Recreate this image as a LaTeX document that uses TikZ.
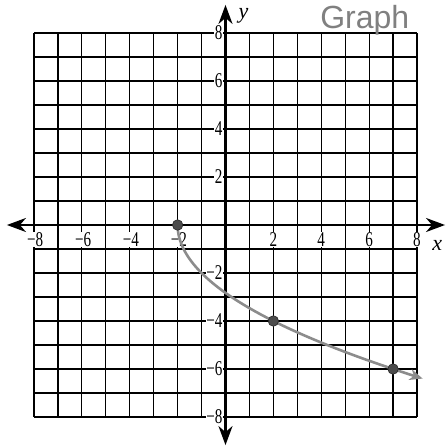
\documentclass[tikz,border=0pt]{standalone}
\usepackage{fontspec}
\setmainfont{Liberation Serif}
\setsansfont{Liberation Sans}
\usetikzlibrary{arrows.meta}
\begin{document}
\begin{tikzpicture}[x=23.94pt,y=24pt,
  gridline/.style={line width=1.2pt,black},
  axisline/.style={line width=2.2pt,black,-{Stealth[length=19pt,width=14pt,inset=6pt]}},
  ticklab/.style={fill=white,inner sep=0.5pt,font=\fontsize{21}{21}\selectfont},
  dot/.style={circle,fill=black!70,draw=black!85,line width=0.6pt,minimum size=10.5pt,inner sep=0pt},
  curveline/.style={line width=2.6pt,black!45,-{Stealth[length=13pt,width=11pt,inset=4pt]}}]
\useasboundingbox (-225.5pt,-222pt) rectangle (219.5pt,225pt);
\fill[white] (-225.5pt,-222pt) rectangle (219.5pt,225pt);
% grid
\foreach \k in {-8,...,8} {
  \draw[gridline] (\k,-8) -- (\k,8);
  \draw[gridline] (-8,\k) -- (8,\k);
}
% tick labels on x axis
\foreach \v/\t in {-8/−8,-6/−6,-4/−4,-2/−2}
  \node[ticklab] (xl\v) at (\v+0.05,-0.62) {\scalebox{0.72}[1]{\t}};
\foreach \v in {2,4,6,8}
  \node[ticklab] (xl\v) at (\v,-0.62) {\scalebox{0.72}[1]{\v}};
% tick labels on y axis
\foreach \v in {2,4,6,8}
  \node[ticklab,anchor=east] (yl\v) at (-0.1,\v) {\scalebox{0.72}[1]{\v}};
\foreach \v/\t in {-2/−2,-4/−4,-6/−6,-8/−8}
  \node[ticklab,anchor=east] (yl\v) at (-0.1,\v) {\scalebox{0.72}[1]{\t}};
% axes
\coordinate (o) at (0,0);
\coordinate (xe) at (9.17,0);
\coordinate (xw) at (-9.13,0);
\coordinate (yn) at (0,9.17);
\coordinate (ys) at (0,-9.17);
\draw[axisline] (o) -- (xe);
\draw[axisline] (o) -- (xw);
\draw[axisline] (o) -- (yn);
\draw[axisline] (o) -- (ys);
\node[font=\fontsize{22}{22}\selectfont\itshape] (ylab) at (0.75,8.7) {y};
\node[font=\fontsize{22}{22}\selectfont\itshape] (xlab) at (8.85,-0.85) {x};
% curve y = -2 sqrt(x+2)
\draw[curveline] plot[domain=0:3.2,samples=80,smooth] ({\x*\x-2},{-2*\x});
\node[dot] (p1) at (-2,0) {};
\node[dot] (p2) at (2,-4) {};
\node[dot] (p3) at (7,-6) {};
% handwritten title
\node[anchor=west,inner sep=0pt,text=black!50,font=\fontsize{32}{32}\selectfont\sffamily] (title) at (3.95,8.55) {Graph};
\end{tikzpicture}
\end{document}
